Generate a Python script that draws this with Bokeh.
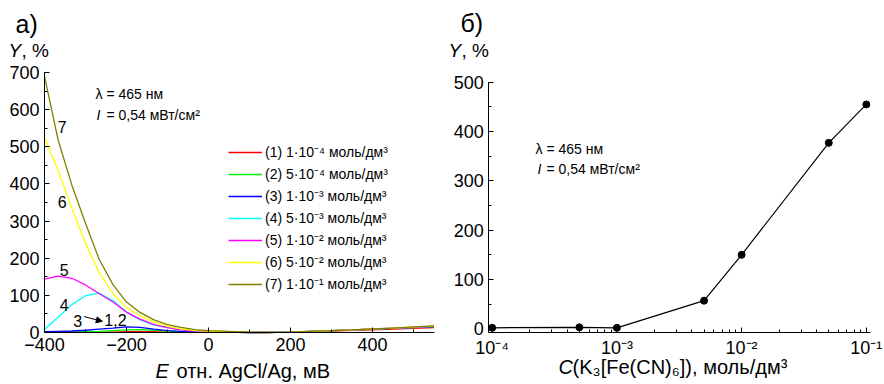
from bokeh.plotting import figure
from bokeh.layouts import row
from bokeh.models import (SingleIntervalTicker, LogTicker, Label, Legend, LegendItem,
                          Arrow, NormalHead, CustomJSTickFormatter, Range1d)
from bokeh.embed import file_html
from bokeh.resources import INLINE

# ---------------- data: panel a ----------------
E = [-400, -367, -333, -300, -267, -233, -200, -167, -133, -100, -67, -33, 0,
     50, 100, 130, 200, 250, 300, 350, 400, 450, 500, 550]
Y1 = [1, 1, 1, 1, 1, 1, 2, 2, 2, 1, 1, 1, 1, 1, 0, 0, 1, 2, 4, 6, 7, 9, 11, 13]
Y2 = [1, 1, 1, 2, 3, 5, 7, 8, 6, 4, 2, 1, 1, 1, 0, 0, 1, 3, 5, 7, 9, 11, 13, 16]
Y3 = [2, 3, 4, 6, 9, 12, 15, 14, 9, 5, 3, 2, 1, 1, 0, 0, 1, 3, 5, 7, 9, 11, 14, 16]
Y4 = [8, 41, 75, 99, 106, 86, 55, 34, 20, 13, 8, 5, 3, 2, 1, 0, 1, 3, 5, 7, 9, 12, 14, 17]
Y5 = [144, 152, 146, 128, 105, 82, 55, 36, 21, 13, 7, 4, 3, 2, 1, 0, 1, 3, 5, 7, 9, 12, 14, 17]
Y6 = [525, 437, 334, 240, 162, 105, 67, 45, 28, 17, 10, 5, 4, 2, 1, 0, 1, 3, 5, 7, 10, 12, 15, 17]
Y7 = [690, 519, 396, 294, 198, 129, 82, 54, 34, 21, 14, 8, 5, 3, 1, 0, 1, 3, 5, 7, 10, 12, 15, 18]
series_a = [Y1, Y2, Y3, Y4, Y5, Y6, Y7]
legend_labels = ["(1) 1·10⁻⁴ моль/дм³", "(2) 5·10⁻⁴ моль/дм³", "(3) 1·10⁻³ моль/дм³",
                 "(4) 5·10⁻³ моль/дм³", "(5) 1·10⁻² моль/дм³", "(6) 5·10⁻² моль/дм³",
                 "(7) 1·10⁻¹ моль/дм³"]
colors = ["#FF0000", "#00F000", "#0000FF", "#00FFFF", "#FF00FF", "#FFFF00", "#808000"]
E_MIN, E_MAX = -400, 550
YA_MIN, YA_MAX = 0, 700

# ---------------- data: panel b ----------------
C = [1e-4, 5e-4, 1e-3, 5e-3, 1e-2, 5e-2, 1e-1]
YC = [2, 3, 2, 57, 150, 377, 455]
C_MIN, C_MAX = 9.4e-5, 1.08e-1
YB_MIN, YB_MAX = -8, 500

FONT = "Liberation Sans"
W, H = 442, 384


def style_axes(p):
    for ax in (p.xaxis[0], p.yaxis[0]):
        ax.major_tick_in = 5
        ax.major_tick_out = 0
        ax.minor_tick_in = 3
        ax.minor_tick_out = 0
        ax.axis_line_color = "black"
        ax.major_tick_line_color = "black"
        ax.minor_tick_line_color = "black"
        ax.major_label_text_font = FONT
        ax.major_label_text_font_size = "18px"
        ax.major_label_text_color = "black"
        ax.major_label_standoff = 5
    p.grid.visible = False
    p.outline_line_color = None
    p.background_fill_color = "white"
    p.border_fill_color = "white"


def add_text(p, x, y, text, size, style="normal", units="screen", align="left"):
    p.add_layout(Label(x=x, y=y, x_units=units, y_units=units, text=text,
                       text_font=FONT, text_font_size=size, text_font_style=style,
                       text_color="black", text_align=align, text_baseline="middle"))


# ================= panel a =================
kx, ky = 389.5 / 950.0, 260.0 / 700.0
xa0 = E_MIN - 44 / kx
ya0 = YA_MIN - (H - 332) / ky
pa = figure(width=W, height=H, output_backend="svg", toolbar_location=None,
            x_range=Range1d(xa0, xa0 + W / kx), y_range=Range1d(ya0, ya0 + H / ky),
            min_border=0)
pa.xaxis.ticker = SingleIntervalTicker(interval=200, num_minor_ticks=2)
pa.yaxis.ticker = SingleIntervalTicker(interval=100, num_minor_ticks=2)
pa.xaxis.fixed_location = YA_MIN
pa.yaxis.fixed_location = E_MIN
pa.xaxis.bounds = (E_MIN, E_MAX)
pa.yaxis.bounds = (YA_MIN, YA_MAX)
style_axes(pa)

items = []
for ys, col, lab in zip(series_a, colors, legend_labels):
    r = pa.line(E, ys, line_color=col, line_width=1.3)
    items.append(LegendItem(label=lab, renderers=[r]))

leg = Legend(items=items, location=(228, H - 293), glyph_width=34, glyph_height=14,
             spacing=3, padding=0, margin=0, label_standoff=3,
             label_text_font=FONT, label_text_font_size="14px", label_text_color="black",
             background_fill_alpha=0, border_line_color=None)
pa.add_layout(leg)


def sa(px, py):
    return px, H - py


add_text(pa, *sa(15, 23), "а)", "25px")
add_text(pa, *sa(8, 50), "Y", "19px", "italic")
add_text(pa, *sa(21, 50), ", %", "19px")
add_text(pa, *sa(155, 370), "E", "20px", "italic")
add_text(pa, *sa(176, 370), "отн. AgCl/Ag, мВ", "20px")
add_text(pa, *sa(95, 93), "λ = 465 нм", "14px")
add_text(pa, *sa(96, 114), "I", "14px", "italic")
add_text(pa, *sa(106, 114), "= 0,54 мВт/см²", "14px")

# curve numbers
for x, y, t in [(-357, 553, "7"), (-357, 351, "6"), (-352, 169, "5"), (-352, 73, "4"),
                (-319, 32, "3"), (-227, 33, "1,2")]:
    add_text(pa, x, y, t, "16px", units="data", align="center")
pa.add_layout(Arrow(end=NormalHead(size=6, fill_color="black", line_color="black"),
                    x_start=-304, y_start=43, x_end=-259, y_end=30,
                    line_color="black", line_width=1))

# ================= panel b =================
kd = 124.7
ly0 = -4 - 49.7 / kd
kyb = (328.3 - 81.7) / 500.0
yb0 = 0 - (H - 328.3) / kyb
pb = figure(width=W, height=H, output_backend="svg", toolbar_location=None,
            x_axis_type="log", x_range=Range1d(10 ** ly0, 10 ** (ly0 + W / kd)),
            y_range=Range1d(yb0, yb0 + H / kyb), min_border=0)
pb.xaxis.ticker = LogTicker(num_minor_ticks=10)
pb.yaxis.ticker = SingleIntervalTicker(interval=100, num_minor_ticks=2)
pb.xaxis.fixed_location = YB_MIN
pb.yaxis.fixed_location = C_MIN
pb.xaxis.bounds = (C_MIN, C_MAX)
pb.yaxis.bounds = (YB_MIN, YB_MAX)
pb.xaxis.formatter = CustomJSTickFormatter(code="""
const sup = {'-':'\u207b','0':'\u2070','1':'\u00b9','2':'\u00b2','3':'\u00b3','4':'\u2074',
             '5':'\u2075','6':'\u2076','7':'\u2077','8':'\u2078','9':'\u2079'};
const e = Math.round(Math.log10(tick));
return '10' + String(e).split('').map(c => sup[c]).join('');
""")
style_axes(pb)
pb.line(C, YC, line_color="black", line_width=1.2)
pb.scatter(C, YC, size=7, fill_color="black", line_color="black")


def sb(px, py):
    return px - W, H - py


add_text(pb, *sb(460, 22), "б)", "25px")
add_text(pb, *sb(448, 50), "Y", "19px", "italic")
add_text(pb, *sb(461, 50), ", %", "19px")
add_text(pb, *sb(558, 366), "C", "20px", "italic")
add_text(pb, *sb(572, 366), "(K₃[Fe(CN)₆]), моль/дм³", "20px")
add_text(pb, *sb(535, 148), "λ = 465 нм", "14px")
add_text(pb, *sb(537, 168), "I", "14px", "italic")
add_text(pb, *sb(546, 168), "= 0,54 мВт/см²", "14px")

layout = row(pa, pb, spacing=0)
open("out.html", "w").write(file_html(layout, INLINE))
